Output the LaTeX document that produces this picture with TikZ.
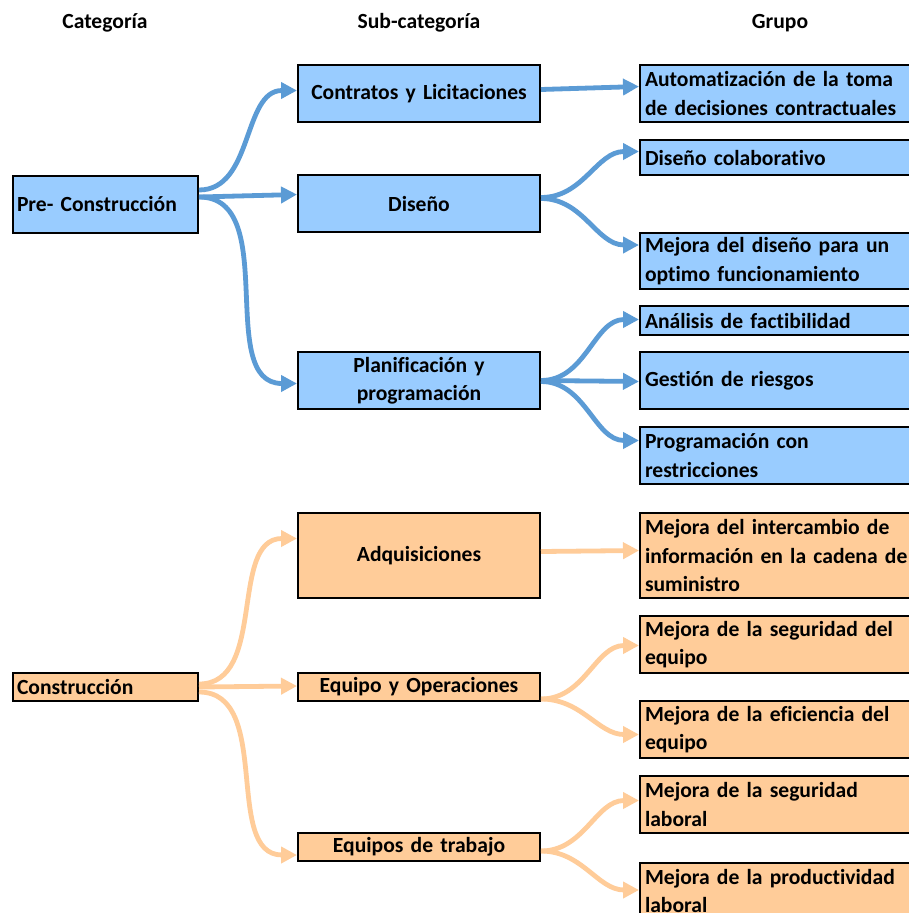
\documentclass[tikz,border=0pt]{standalone}
\usepackage{fontspec}
\setmainfont{Carlito}[Ligatures=NoCommon]
\usetikzlibrary{arrows.meta}
\definecolor{bfill}{HTML}{99CCFF}
\definecolor{bline}{HTML}{5B9BD5}
\definecolor{ofill}{HTML}{FFCC99}
\definecolor{oline}{HTML}{FFCC99}
\newcommand\diagfont{\fontsize{21.6}{28.5}\selectfont\bfseries\spaceskip=0.21em\relax}
\begin{document}
\begin{tikzpicture}[x=1pt,y=-1pt,
  every node/.style={font=\diagfont, text=black},
  box/.style={draw=black, line width=2pt, rectangle, inner ysep=0pt, minimum height=#1},
  bbox/.style={box=#1, fill=bfill},
  obox/.style={box=#1, fill=ofill},
  cat/.style={inner xsep=4pt, text width=177pt, align=left, minimum width=185pt},
  sub/.style={inner xsep=4pt, text width=234pt, align=center, minimum width=242pt},
  grp/.style={inner xsep=5pt, text width=300pt, align=left, minimum width=310pt},
  barrow/.style={draw=bline, line width=4.8pt, -{Triangle[length=16pt,width=16pt]}},
  oarrow/.style={draw=oline, line width=4.8pt, -{Triangle[length=16pt,width=16pt]}},
  hdr/.style={}]
\useasboundingbox (0,0) rectangle (909,913);
\fill[white] (0,0) rectangle (909,913);
\clip (0,0) rectangle (909,913);

% headers
\node[hdr] (h1) at (105,23) {Categoría};
\node[hdr] (h2) at (419,23) {Sub-categoría};
\node[hdr] (h3) at (780,23) {Grupo};

% Pre-construction
\node[bbox=57pt, cat] (pre) at (105.5,204) {Pre- Construcción};
\node[bbox=57pt, sub] (contr) at (419,93.5) {Contratos y Licitaciones};
\node[bbox=57pt, sub] (dis) at (419,203.5) {Diseño};
\node[bbox=57pt, sub] (plan) at (419,380.5) {Planificación y\\programación};

\node[bbox=57pt, grp] (auto) at (795,93.5) {Automatización de la toma\\de decisiones contractuales};
\node[bbox=35pt, grp] (dcol) at (795,157.5) {Diseño colaborativo};
\node[bbox=56pt, grp] (mdis) at (795,261) {Mejora del diseño para un\\optimo funcionamiento};
\node[bbox=29pt, grp] (anal) at (795,320.5) {Análisis de factibilidad};
\node[bbox=57pt, grp] (gest) at (795,380.5) {Gestión de riesgos};
\node[bbox=57pt, grp] (prog) at (795,455.5) {Programación con\\restricciones};

% Construction
\node[obox=28pt, cat] (cons) at (105.5,687) {Construcción};
\node[obox=85pt, sub] (adq) at (419,555.5) {Adquisiciones};
\node[obox=28pt, sub] (eqop) at (419,687) {Equipo y Operaciones};
\node[obox=28pt, sub] (eqtr) at (419,847) {Equipos de trabajo};

\node[obox=85pt, grp] (minf) at (795,555.5) {Mejora del intercambio de\\información en la cadena de\\suministro};
\node[obox=57pt, grp] (mseg) at (795,644.5) {Mejora de la seguridad del\\equipo};
\node[obox=57pt, grp] (mefi) at (795,729.5) {Mejora de la eficiencia del\\equipo};
\node[obox=57pt, grp] (mlab) at (795,804.5) {Mejora de la seguridad\\laboral};
\node[obox=57pt, grp] (mprod) at (795,891) {Mejora de la productividad\\laboral};

% blue connectors
\draw[barrow] ([yshift=14pt]pre.east) to[out=0,in=180] ([yshift=3pt]contr.west);
\draw[barrow] ([yshift=7pt]pre.east) -- ([yshift=9pt]dis.west);
\draw[barrow] ([yshift=7pt]pre.east) to[out=0,in=180] ([yshift=-3pt]plan.west);
\draw[barrow] ([yshift=4pt]contr.east) -- ([yshift=7pt]auto.west);
\draw[barrow] ([yshift=6pt]dis.east) to[out=0,in=180] ([yshift=6pt]dcol.west);
\draw[barrow] ([yshift=5pt]dis.east) to[out=0,in=180] ([yshift=16pt]mdis.west);
\draw[barrow] (plan.east) to[out=0,in=180] ([yshift=1pt]anal.west);
\draw[barrow] (plan.east) -- ([yshift=-1pt]gest.west);
\draw[barrow] ([yshift=-1pt]plan.east) to[out=0,in=180] ([yshift=15pt]prog.west);

% orange connectors
\draw[oarrow] ([yshift=3pt]cons.east) to[out=0,in=180] ([yshift=17pt]adq.west);
\draw[oarrow] ([yshift=0pt]cons.east) -- ([yshift=1pt]eqop.west);
\draw[oarrow] ([yshift=-5pt]cons.east) to[out=0,in=180] ([yshift=-8pt]eqtr.west);
\draw[oarrow] ([yshift=4pt]adq.east) -- ([yshift=5pt]minf.west);
\draw[oarrow] ([yshift=-12pt]eqop.east) to[out=0,in=180] ([yshift=-1pt]mseg.west);
\draw[oarrow] ([yshift=-12pt]eqop.east) to[out=0,in=180] ([yshift=-5pt]mefi.west);
\draw[oarrow] ([yshift=-4pt]eqtr.east) to[out=0,in=180] ([yshift=4pt]mlab.west);
\draw[oarrow] ([yshift=-4pt]eqtr.east) to[out=0,in=180] ([yshift=1pt]mprod.west);
\end{tikzpicture}
\end{document}
